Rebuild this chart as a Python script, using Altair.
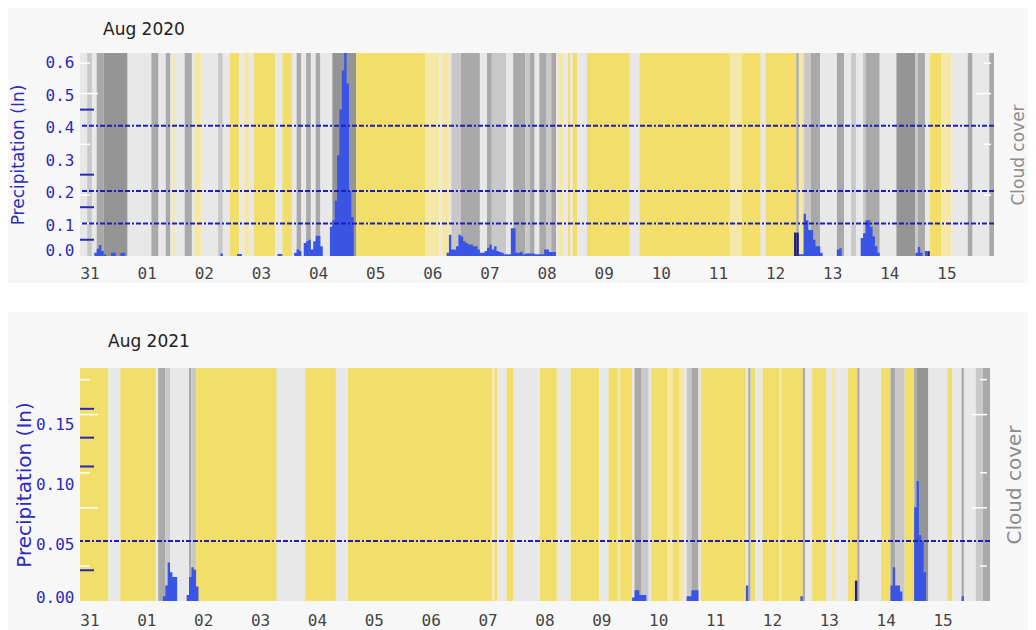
import altair as alt
import pandas as pd

# ---------------- data ----------------
day_labels = ["31", "01", "02", "03", "04", "05", "06", "07", "08", "09", "10", "11", "12", "13", "14", "15"]
tick_hours = [0, 24, 48, 72, 96, 120, 144, 168, 192, 216, 240, 264, 288, 312, 336, 360]

cloud_kinds = ["Y", "PY", "LG", "MG", "G", "DG"]
cloud_colors = ["#f2de6b", "#f5e7a5", "#e8e8e8", "#c8c8c8", "#a9a9a9", "#959595"]

# cloud-cover stripes: (start hour, end hour, category)
cloud_2020 = [
    (-4, -1, "LG"), (-1, 1, "MG"), (1, 3, "LG"), (3, 6, "G"), (6, 16, "DG"), (16, 26, "LG"),
    (26, 29, "G"), (29, 32, "LG"), (32, 34, "G"), (34, 35, "LG"), (35, 36, "PY"), (36, 40, "LG"),
    (40, 43, "G"), (43, 44, "LG"), (44, 47, "PY"), (47, 54, "LG"), (54, 56, "MG"), (56, 59, "LG"),
    (59, 63, "Y"), (63, 65, "LG"), (65, 67, "PY"), (67, 69, "LG"), (69, 78, "Y"), (78, 81, "LG"),
    (81, 85, "Y"), (85, 87, "LG"), (87, 89, "G"), (89, 91, "LG"), (91, 93, "G"), (93, 95, "LG"),
    (95, 97, "G"), (97, 102, "LG"), (102, 112, "DG"), (112, 141, "Y"), (141, 147, "PY"),
    (147, 148, "LG"), (148, 151, "PY"), (151, 152, "LG"), (152, 156, "MG"), (156, 164, "G"),
    (164, 167, "LG"), (167, 169, "G"), (169, 175, "MG"), (175, 178, "LG"), (178, 183, "G"),
    (183, 185, "MG"), (185, 187, "G"), (187, 189, "LG"), (189, 192, "G"), (192, 194, "MG"),
    (194, 196, "G"), (196, 197, "LG"), (197, 199, "PY"), (199, 201, "LG"), (201, 202, "Y"),
    (202, 203, "LG"), (203, 205, "Y"), (205, 209, "LG"), (209, 227, "Y"), (227, 231, "LG"),
    (231, 269, "Y"), (269, 274, "PY"), (274, 282, "Y"), (282, 284, "LG"), (284, 297, "Y"),
    (297, 298, "G"), (298, 300, "PY"), (300, 303, "MG"), (303, 307, "G"), (307, 314, "LG"),
    (314, 317, "G"), (317, 320, "LG"), (320, 322, "MG"), (322, 325, "LG"), (325, 326, "MG"),
    (326, 332, "G"), (332, 339, "LG"), (339, 347, "DG"), (347, 348, "MG"), (348, 351, "G"),
    (351, 353, "LG"), (353, 358, "Y"), (358, 362, "PY"), (362, 369, "LG"), (369, 371, "G"),
    (371, 378, "LG"), (378, 380, "G"),
]

cloud_2021 = [
    (-4, 8, "Y"), (8, 13, "LG"), (13, 28, "Y"), (28, 29, "LG"), (29, 32, "G"), (32, 34, "MG"),
    (34, 42, "LG"), (42, 43, "G"), (43, 45, "MG"), (45, 79, "Y"), (79, 91, "LG"), (91, 104, "Y"),
    (104, 109, "LG"), (109, 170, "Y"), (170, 171, "PY"), (171, 172, "Y"), (172, 176, "LG"),
    (176, 179, "Y"), (179, 190, "LG"), (190, 197, "Y"), (197, 198, "PY"), (198, 203, "LG"),
    (203, 215, "Y"), (215, 219, "LG"), (219, 223, "Y"), (223, 224, "PY"), (224, 229, "Y"),
    (229, 230, "LG"), (230, 233, "G"), (233, 236, "MG"), (236, 237, "LG"), (237, 244, "Y"),
    (244, 246, "PY"), (246, 249, "Y"), (249, 251, "PY"), (251, 252, "LG"), (252, 254, "MG"),
    (254, 257, "G"), (257, 258, "LG"), (258, 277, "Y"), (277, 278, "LG"), (278, 279, "G"),
    (279, 281, "Y"), (281, 284, "LG"), (284, 291, "Y"), (291, 292, "PY"), (292, 301, "Y"),
    (301, 302, "G"), (302, 305, "LG"), (305, 311, "Y"), (311, 313, "LG"), (313, 315, "PY"),
    (315, 320, "LG"), (320, 324, "Y"), (324, 325, "G"), (325, 334, "LG"), (334, 338, "Y"),
    (338, 340, "G"), (340, 344, "MG"), (344, 348, "Y"), (348, 349, "G"), (349, 354, "DG"),
    (354, 362, "LG"), (362, 364, "Y"), (364, 368, "LG"), (368, 369, "G"), (369, 374, "LG"),
    (374, 377, "MG"), (377, 380, "G"),
]

# hourly precipitation (inches), only non-zero hours listed
precip_2020_hours = [2, 3, 4, 5, 6, 9, 10, 13, 14, 55, 62, 63, 79, 80, 86, 87, 88,
                     90, 91, 92, 93, 94, 95, 96, 97,
                     101, 102, 103, 104, 105, 106, 107, 108, 109, 110,
                     150, 151, 152, 153, 154, 155, 156, 157, 158, 159, 160, 161, 162, 163, 164,
                     165, 166, 167, 168, 169, 170, 171, 172, 173, 174, 175, 176, 177, 178, 179,
                     180, 181, 182, 183, 184, 185, 186, 187, 188, 189, 190, 191, 192, 193, 194, 195,
                     298, 299, 300, 301, 302, 303, 304, 305, 306, 307,
                     314, 315, 324, 325, 326, 327, 328, 329, 330, 331,
                     347, 348, 349, 351]
precip_2020_values = [0.01, 0.022, 0.034, 0.015, 0.005, 0.01, 0.01, 0.01, 0.01, 0.008, 0.006, 0.006,
                      0.006, 0.006, 0.01, 0.02, 0.015,
                      0.04, 0.045, 0.05, 0.02, 0.045, 0.062, 0.062, 0.03,
                      0.09, 0.11, 0.17, 0.31, 0.45, 0.57, 0.66, 0.53, 0.2, 0.12,
                      0.01, 0.065, 0.02, 0.02, 0.03, 0.065, 0.06, 0.045, 0.04, 0.035, 0.035, 0.03,
                      0.03, 0.02, 0.01, 0.01, 0.015, 0.025, 0.035, 0.02, 0.03, 0.015, 0.012, 0.01,
                      0.005, 0.005, 0.005, 0.085, 0.085, 0.01, 0.01, 0.013, 0.005, 0.008, 0.008,
                      0.008, 0.008, 0.005, 0.005, 0.005, 0.005, 0.02, 0.02, 0.012, 0.012, 0.012,
                      0.005, 0.005, 0.13, 0.11, 0.08, 0.08, 0.05, 0.03, 0.03, 0.01,
                      0.02, 0.024, 0.055, 0.07, 0.11, 0.11, 0.09, 0.06, 0.03, 0.01,
                      0.01, 0.028, 0.01, 0.015]
navy_2020_hours = [296, 297, 352]
navy_2020_values = [0.072, 0.072, 0.015]

precip_2021_hours = [31, 32, 33, 34, 35, 36, 41, 42, 43, 44, 45,
                     229, 230, 231, 232, 233, 234, 252, 253, 254, 255, 256, 277, 300,
                     338, 339, 340, 341, 342, 348, 349, 350, 351, 352, 368]
precip_2021_values = [0.004, 0.013, 0.032, 0.024, 0.02, 0.02, 0.005, 0.02, 0.028, 0.026, 0.012,
                      0.003, 0.009, 0.009, 0.005, 0.005, 0.005, 0.004, 0.004, 0.009, 0.009, 0.009,
                      0.013, 0.004, 0.013, 0.028, 0.013, 0.013, 0.008, 0.078, 0.1, 0.055, 0.05,
                      0.024, 0.004]
navy_2021_hours = [323]
navy_2021_values = [0.017]

# horizontal dotted thresholds and axis decorations
thresholds_2020 = [0.1, 0.2, 0.4]
thresholds_2021 = [0.05]
yticks_2020 = [0.0, 0.1, 0.2, 0.3, 0.4, 0.5, 0.6]
yticks_2021 = [0.0, 0.05, 0.10, 0.15]
blue_marks_2020 = [0.05, 0.15, 0.25, 0.45]
blue_marks_2021 = [0.0256, 0.112, 0.136, 0.16]
cloud_long_2020 = [80]
cloud_short_2020 = [95, 55, 30, 16]
cloud_long_2021 = [80, 40]
cloud_short_2021 = [95, 55, 15]

BLUE = "#2b2bbd"
label_expr = "[" + ",".join("'%s'" % d for d in day_labels) + "][round(datum.value/24)]"
LEFT = 72  # svg x of both plot areas


def panel(title, cloud, ph, pv, nh, nv, thresholds, yvals, yfmt, ymax, blue_marks,
          c_long, c_short, width, height, top_ext, bottom_ext, title_pos, xlab_pad,
          ytitle_x, ctitle_x, tsize, ylab_off):
    right_ext = 1020 - LEFT - width
    xs = alt.Scale(domain=[-4, 380], nice=False, zero=False)
    xaxis = alt.Axis(values=tick_hours, labelExpr=label_expr, ticks=False, tickSize=0,
                     domain=False, grid=False, labelFont="DejaVu Sans Mono", labelFontSize=16,
                     labelColor="#444444", labelPadding=xlab_pad, labelBaseline="middle",
                     labelFlush=False, labelOverlap=False, title=None, zindex=1)
    ps = alt.Scale(domain=[0, ymax], nice=False, zero=True)
    paxis = alt.Axis(orient="left", values=yvals, format=yfmt, title="Precipitation (In)",
                     ticks=False, tickSize=0, domain=False, grid=False,
                     labelFont="DejaVu Sans Mono", labelFontSize=16, labelColor=BLUE,
                     labelPadding=6, labelFlush=True, labelOffset=ylab_off,
                     titleColor=BLUE, titleFont="DejaVu Sans", titleFontSize=tsize,
                     titleFontWeight="normal", titleAngle=270, titleBaseline="middle",
                     titleAlign="center", titleX=ytitle_x, titleY=height / 2, zindex=1)
    cs = alt.Scale(domain=[0, 100], nice=False)
    caxis = alt.Axis(orient="right", title="Cloud cover", labels=False, ticks=False,
                     tickSize=0, domain=False, grid=False, titleColor="#8c8c8c",
                     titleFont="DejaVu Sans", titleFontSize=tsize, titleFontWeight="normal",
                     titleAngle=270, titleBaseline="middle", titleAlign="center",
                     titleX=ctitle_x, titleY=height / 2, zindex=1)

    one = pd.DataFrame({"k": [0]})
    bg = alt.Chart(one).mark_rect(color="#f7f7f7", clip=False).encode(
        x=alt.value(-LEFT), x2=alt.value(width + right_ext),
        y=alt.value(-top_ext), y2=alt.value(height + bottom_ext))
    ttl = alt.Chart(one).mark_text(text=title, align="left", baseline="middle", fontSize=17,
                                   font="DejaVu Sans", color="#222222").encode(
        x=alt.value(title_pos[0]), y=alt.value(title_pos[1]))

    dfc = pd.DataFrame(cloud, columns=["start", "end", "kind"])
    stripes = alt.Chart(dfc).mark_rect(clip=True, strokeWidth=0).encode(
        x=alt.X("start:Q", scale=xs, axis=xaxis),
        x2="end:Q",
        y=alt.value(0), y2=alt.value(height),
        color=alt.Color("kind:N", scale=alt.Scale(domain=cloud_kinds, range=cloud_colors),
                        legend=None))

    cy = alt.Y("v:Q", scale=cs, axis=caxis)
    dl = pd.DataFrame({"v": c_long})
    dsh = pd.DataFrame({"v": c_short})
    wl = alt.Chart(dl).mark_rule(color="white", strokeWidth=1.5).encode(
        y=cy, x=alt.value(0), x2=alt.value(18))
    ws = alt.Chart(dsh).mark_rule(color="white", strokeWidth=1.5).encode(
        y=cy, x=alt.value(0), x2=alt.value(10))
    wrl = alt.Chart(dl).mark_rule(color="white", strokeWidth=1.5).encode(
        y=cy, x=alt.value(width - 18), x2=alt.value(width - 3))
    wrs = alt.Chart(dsh).mark_rule(color="white", strokeWidth=1.5).encode(
        y=cy, x=alt.value(width - 10), x2=alt.value(width - 3))

    hours = list(range(-4, 381))
    lookup = dict(zip(ph, pv))
    dfp = pd.DataFrame({"h": hours, "v": [lookup.get(h, 0.0) for h in hours]})
    py = alt.Y("v:Q", scale=ps, axis=paxis)
    area = alt.Chart(dfp).mark_area(interpolate="step-after", color="#3a55e3", clip=True).encode(
        x=alt.X("h:Q", scale=xs, axis=xaxis), y=py)

    dfn = pd.DataFrame({"h": nh, "h2": [h + 1 for h in nh], "v": nv})
    navy = alt.Chart(dfn).mark_rect(color="#1c1c8a", clip=True).encode(
        x=alt.X("h:Q", scale=xs, axis=xaxis), x2="h2:Q", y=py, y2=alt.value(height))

    rules = alt.Chart(pd.DataFrame({"v": thresholds})).mark_rule(
        color="#1f1fb3", strokeWidth=2, strokeDash=[5, 2, 5, 2, 2, 2]).encode(y=py)
    blue = alt.Chart(pd.DataFrame({"v": blue_marks})).mark_rule(
        color="#2727b8", strokeWidth=2).encode(y=py, x=alt.value(0), x2=alt.value(14))

    cloud_layer = alt.layer(bg, ttl, stripes, wl, ws, wrl, wrs)
    precip_layer = alt.layer(area, navy, rules, blue)
    return alt.layer(cloud_layer, precip_layer).resolve_scale(y="independent").properties(
        width=width, height=height)


p1 = panel("Aug 2020", cloud_2020, precip_2020_hours, precip_2020_values,
           navy_2020_hours, navy_2020_values, thresholds_2020, yticks_2020, ".1f", 0.624,
           blue_marks_2020, cloud_long_2020, cloud_short_2020,
           width=914, height=203, top_ext=45, bottom_ext=27, title_pos=(23, -23), xlab_pad=17,
           ytitle_x=-62, ctitle_x=24, tsize=17, ylab_off=2)
p2 = panel("Aug 2021", cloud_2021, precip_2021_hours, precip_2021_values,
           navy_2021_hours, navy_2021_values, thresholds_2021, yticks_2021, ".2f", 0.194,
           blue_marks_2021, cloud_long_2021, cloud_short_2021,
           width=910, height=233, top_ext=56, bottom_ext=29, title_pos=(28, -26), xlab_pad=19,
           ytitle_x=-56, ctitle_x=24, tsize=20, ylab_off=4)

chart = alt.vconcat(p1, p2, spacing=29).properties(
    background="white", padding=0
).configure_view(stroke=None)

chart.save("out.html", embed_options={"renderer": "svg", "actions": False})
